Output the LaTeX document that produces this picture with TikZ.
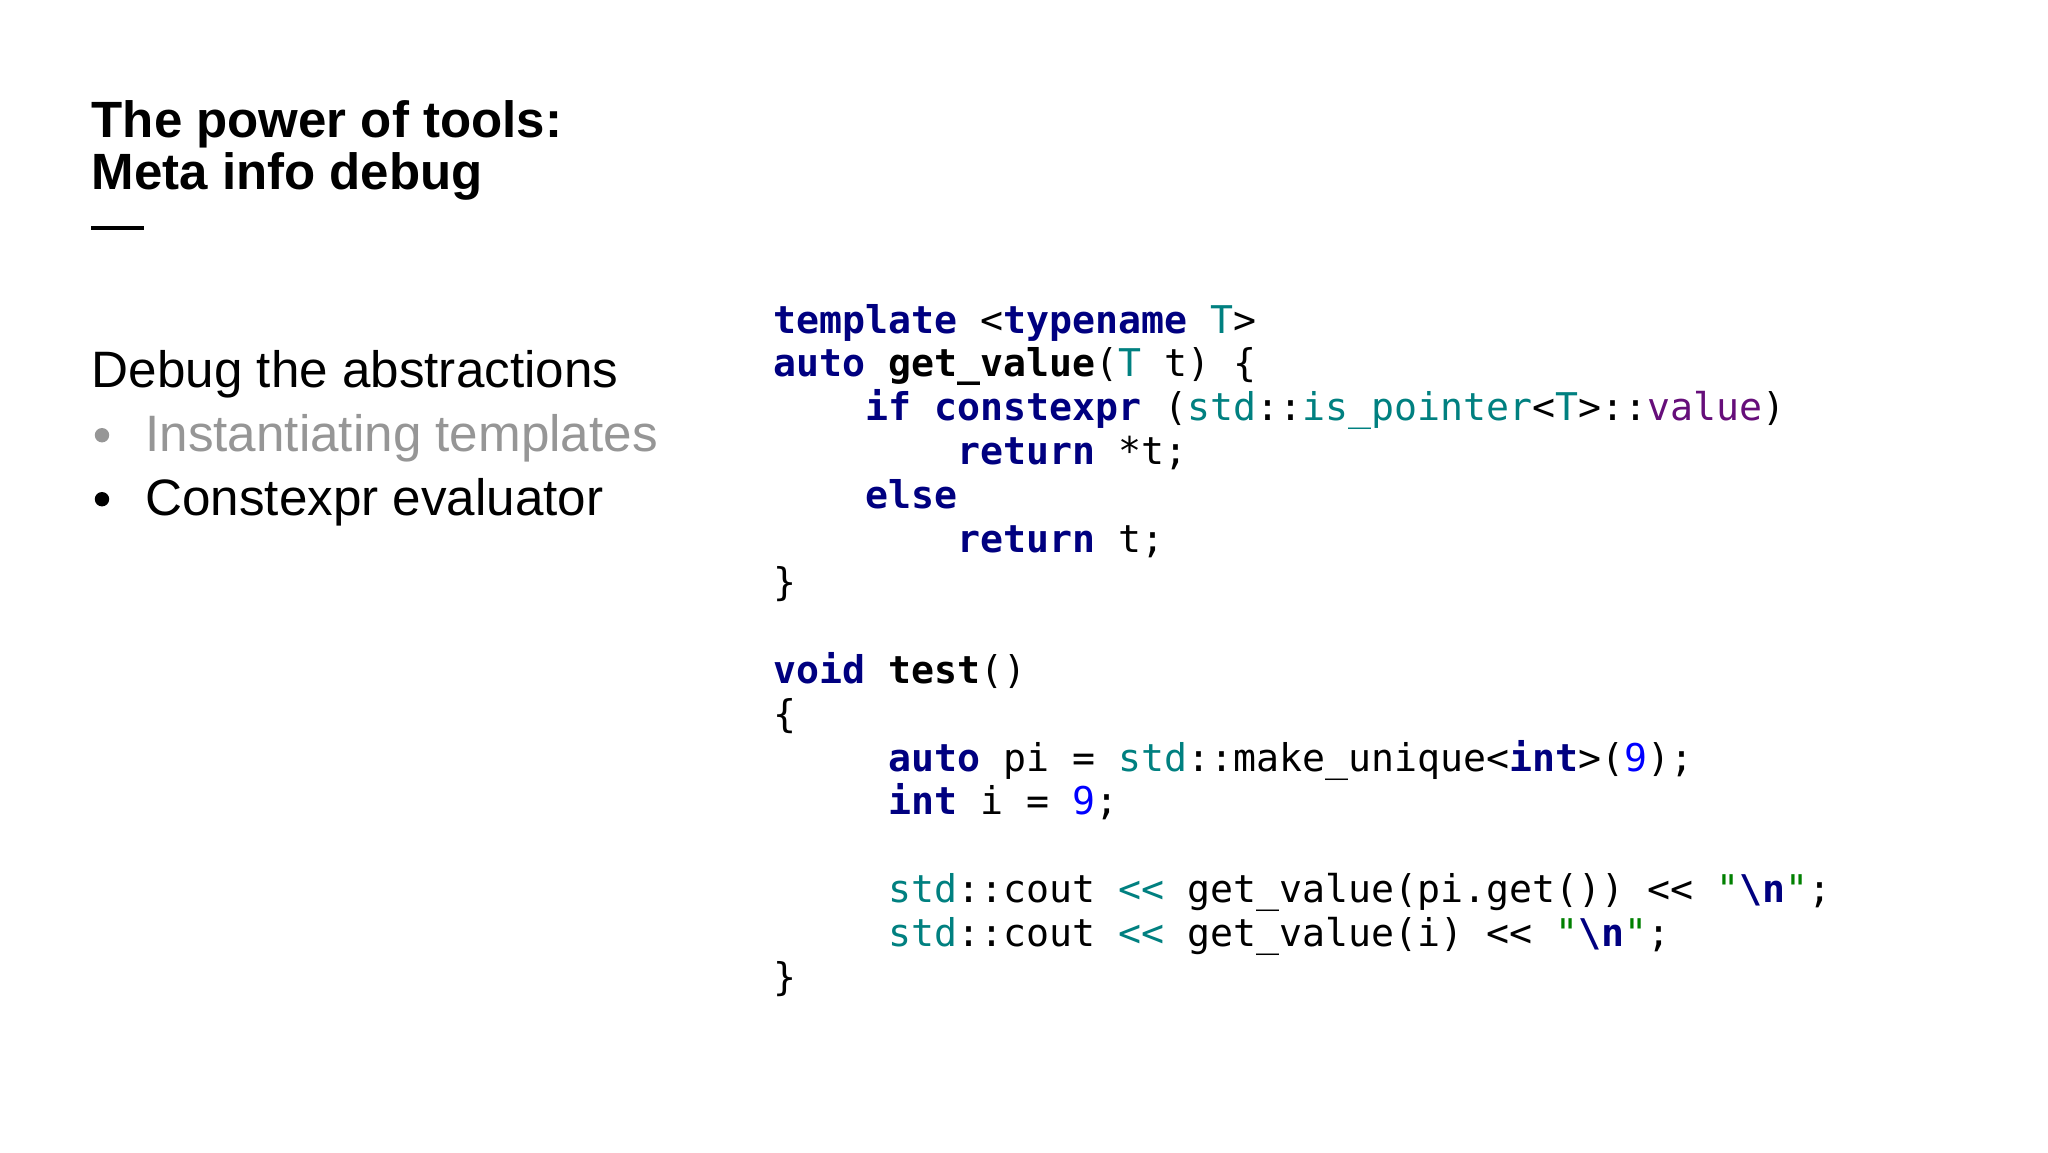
\documentclass[tikz,border=0pt]{standalone}
\usepackage{fontspec}
\setmainfont{Liberation Sans}
\newfontfamily\cf{DejaVu Sans Mono}
\definecolor{kwc}{RGB}{0,0,128}
\definecolor{stdc}{RGB}{0,128,128}
\definecolor{valc}{RGB}{102,14,122}
\definecolor{numc}{RGB}{0,0,255}
\definecolor{strc}{RGB}{0,128,0}
\definecolor{greyc}{RGB}{150,150,150}
\newcommand\kw[1]{\textbf{\color{kwc}#1}}
\newcommand\sd[1]{{\color{stdc}#1}}
\newcommand\nm[1]{{\color{numc}#1}}
\newcommand\ind[1]{\hspace*{#1\dimexpr 11.5pt\relax}}
\newcommand\nl{{\color{strc}"}\textbf{\color{kwc}\textbackslash n}{\color{strc}"}}
\tikzset{codeln/.style={anchor=base west,inner sep=0pt,font=\cf\fontsize{19.1}{22}\selectfont},
 txt/.style={anchor=base west,inner sep=0pt},
 bfont/.style={font=\fontsize{25.6}{30}\selectfont}}
\begin{document}
\begin{tikzpicture}[x=1pt,y=-1pt]
\useasboundingbox (0,0) rectangle (1024,576);
\fill[white] (0,0) rectangle (1024,576);
\node[txt,font=\bfseries\fontsize{25.5}{30}\selectfont] (t1) at (45.7,68.6) {The power of tools:};
\node[txt,font=\bfseries\fontsize{25.5}{30}\selectfont] (t2) at (45.7,94.7) {Meta info debug};
\draw[line width=2pt] (45.7,114) -- (71.8,114);
\node[txt,bfont] (b0) at (45.7,193.6) {Debug the abstractions};
\fill[greyc] (51,217.6) circle (3.6pt);
\node[txt,bfont,text=greyc] (b1) at (72.5,225.6) {Instantiating templates};
\fill[black] (51,249.6) circle (3.6pt);
\node[txt,bfont] (b2) at (72.5,257.6) {Constexpr evaluator};
\def\cx{386.6}
\def\dl{21.9}
\foreach \i/\t in {
 0/{\kw{template} <\kw{typename} \sd{T}>},
 1/{\kw{auto} \textbf{get\_value}(\sd{T} t) \{},
 2/{\ind{4}\kw{if} \kw{constexpr} (\sd{std}::\sd{is\_pointer}<\sd{T}>::{\color{valc}value})},
 3/{\ind{8}\kw{return} *t;},
 4/{\ind{4}\kw{else}},
 5/{\ind{8}\kw{return} t;},
 6/{\}},
 8/{\kw{void} \textbf{test}()},
 9/{\{},
 10/{\ind{5}\kw{auto} pi = \sd{std}::make\_unique<\kw{int}>(\nm{9});},
 11/{\ind{5}\kw{int} i = \nm{9};},
 13/{\ind{5}\sd{std}::cout \sd{<<} get\_value(pi.get()) << \nl;},
 14/{\ind{5}\sd{std}::cout \sd{<<} get\_value(i) << \nl;},
 15/{\}}}
 \node[codeln] (c\i) at (\cx,166.5+\i*\dl) {\t};
\end{tikzpicture}
\end{document}
